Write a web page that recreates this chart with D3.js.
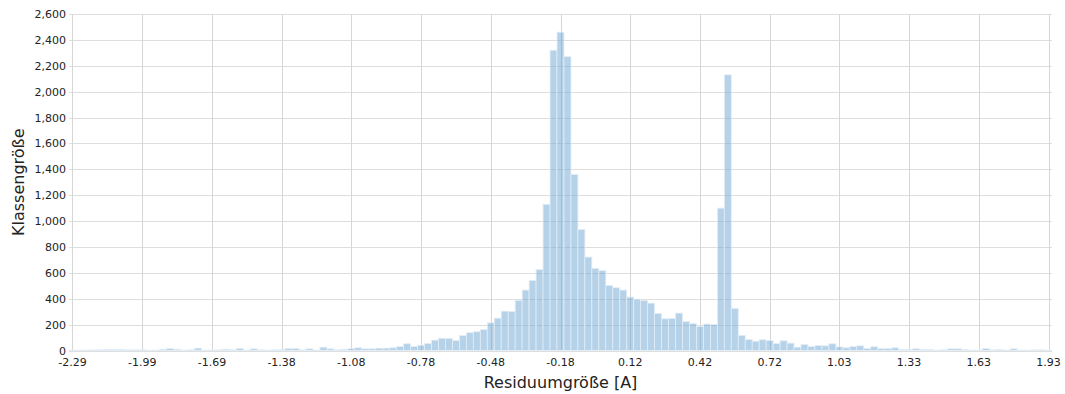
<!DOCTYPE html>
<html>
<head>
<meta charset="utf-8">
<script src="https://cdn.jsdelivr.net/npm/d3@7"></script>
<style>
  html, body { margin: 0; padding: 0; background: #fff; }
  svg { display: block; font-family: "DejaVu Sans", Verdana, sans-serif; }
</style>
</head>
<body>
<svg id="chart" width="1065" height="394"></svg>
<script>
// Histogram counts per residual class (141 classes, centred on the tick values)
const binCounts = [
  3, 3, 3, 5, 5, 8, 8, 8, 5, 5,
  5, 3, 3, 10, 15, 10, 3, 5, 18, 3,
  3, 5, 10, 5, 15, 3, 13, 5, 3, 5,
  8, 15, 15, 5, 13, 3, 26, 13, 5, 10,
  15, 21, 13, 13, 18, 18, 21, 31, 52, 31,
  41, 54, 80, 95, 93, 77, 116, 137, 145, 162,
  214, 250, 304, 302, 387, 467, 542, 627, 1130, 2320,
  2460, 2270, 1360, 935, 722, 635, 617, 503, 485, 467,
  413, 397, 387, 366, 286, 245, 248, 289, 224, 209,
  186, 204, 201, 1100, 2130, 325, 117, 85, 72, 83,
  77, 54, 75, 57, 26, 46, 31, 39, 36, 52,
  28, 21, 31, 36, 15, 29, 15, 15, 21, 8,
  8, 13, 8, 8, 3, 5, 13, 13, 8, 3,
  3, 15, 5, 8, 3, 13, 3, 3, 5, 5,
  3
];

// Class-axis labels, one every ten classes
const xTickLabels = ["-2.29", "-1.99", "-1.69", "-1.38", "-1.08", "-0.78", "-0.48",
  "-0.18", "0.12", "0.42", "0.72", "1.03", "1.33", "1.63", "1.93"];
const xTickEvery = 10;

// Count-axis ticks
const yTicks = [0, 200, 400, 600, 800, 1000, 1200, 1400, 1600, 1800, 2000, 2200, 2400, 2600];

const xTitle = "Residuumgröße [A]";
const yTitle = "Klassengröße";

const svg = d3.select("#chart");
const plot = { left: 69, right: 1052, top: 14, bottom: 350.5 };

const x = d3.scaleBand()
  .domain(d3.range(binCounts.length))
  .range([plot.left, plot.right])
  .padding(0);

const y = d3.scaleLinear()
  .domain([0, d3.max(yTicks)])
  .range([plot.bottom, plot.top]);

const tickIdx = xTickLabels.map((_, i) => i * xTickEvery);
const cx = i => x(i) + x.bandwidth() / 2;

// Grid: horizontal
svg.append("g")
  .selectAll("line")
  .data(yTicks)
  .join("line")
  .attr("x1", plot.left).attr("x2", plot.right)
  .attr("y1", d => Math.round(y(d)) + 0.5).attr("y2", d => Math.round(y(d)) + 0.5)
  .attr("stroke", "#dedede").attr("stroke-width", 1);

// Grid: vertical
svg.append("g")
  .selectAll("line")
  .data(tickIdx)
  .join("line")
  .attr("x1", d => Math.round(cx(d)) + 0.5).attr("x2", d => Math.round(cx(d)) + 0.5)
  .attr("y1", plot.top).attr("y2", plot.bottom)
  .attr("stroke", "#d6d6d6").attr("stroke-width", 1);

// Bars
svg.append("g")
  .selectAll("rect")
  .data(binCounts)
  .join("rect")
  .attr("x", (d, i) => x(i))
  .attr("width", x.bandwidth())
  .attr("y", d => y(d))
  .attr("height", d => y(0) - y(d))
  .attr("fill", "rgb(100,160,208)")
  .attr("fill-opacity", 0.48)
  .attr("stroke", "#e4eef7")
  .attr("stroke-width", 0.8);

// Y axis labels
const yAxis = d3.axisLeft(y)
  .tickValues(yTicks)
  .tickFormat(d3.format(","))
  .tickSize(0)
  .tickPadding(3);
const gy = svg.append("g")
  .attr("transform", `translate(${plot.left},0)`)
  .call(yAxis);
gy.select(".domain").remove();
gy.selectAll("text").attr("font-size", 11).attr("fill", "#222")
  .attr("font-family", "DejaVu Sans, sans-serif");

// X axis labels
const xAxis = d3.axisBottom(x)
  .tickValues(tickIdx)
  .tickFormat((d, i) => xTickLabels[i])
  .tickSize(0)
  .tickPadding(8);
const gx = svg.append("g")
  .attr("transform", `translate(0,${plot.bottom})`)
  .call(xAxis);
gx.select(".domain").remove();
gx.selectAll("text").attr("font-size", 11).attr("fill", "#222")
  .attr("font-family", "DejaVu Sans, sans-serif");

// Axis titles
svg.append("text")
  .attr("x", (plot.left + plot.right) / 2)
  .attr("y", 388)
  .attr("text-anchor", "middle")
  .attr("font-size", 16)
  .attr("fill", "#222")
  .text(xTitle);

svg.append("text")
  .attr("transform", `translate(24,${(plot.top + plot.bottom) / 2}) rotate(-90)`)
  .attr("text-anchor", "middle")
  .attr("font-size", 16)
  .attr("fill", "#222")
  .text(yTitle);
</script>
</body>
</html>
